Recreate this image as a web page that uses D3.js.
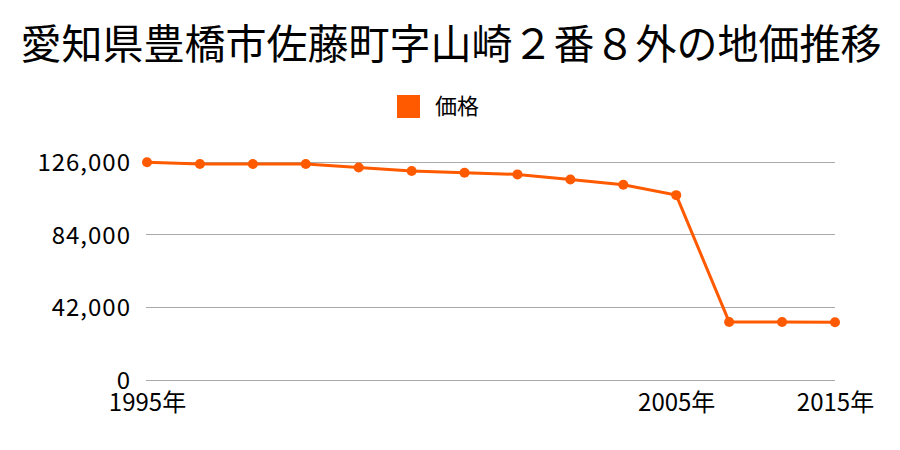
<!DOCTYPE html>
<html><head><meta charset="utf-8">
<script src="https://cdn.jsdelivr.net/npm/d3@7/dist/d3.min.js"></script>
<style>
html,body{margin:0;padding:0;background:#fff;}
text{font-family:"Noto Sans CJK JP","Noto Sans",sans-serif;fill:#000;}
</style></head>
<body><svg id="c" width="900" height="450"></svg>
<script>
const title = "愛知県豊橋市佐藤町字山崎２番８外の地価推移";
const seriesName = "価格";
const years = ["1995","1996","1997","1998","1999","2000","2001","2002","2003","2004","2005","2013","2014","2015"];
const values = [126000,125000,125000,125000,123000,121000,120000,119000,116000,113000,107000,33600,33600,33400];
const yTicks = [0,42000,84000,126000];
const xLabels = ["1995","2005","2015"];
const color = "#ff5a00";

const svg = d3.select("#c");
const pL = 147, pR = 835, pT = 162.3, pB = 380;
const x = d3.scalePoint().domain(years).range([pL, pR]);
const y = d3.scaleLinear().domain([0,126000]).range([pB, pT]);

svg.append("text").attr("x",451).attr("y",59).attr("text-anchor","middle")
  .style("font-size","41px").text(title);

svg.append("rect").attr("x",397).attr("y",95).attr("width",23).attr("height",23).attr("fill",color);
svg.append("text").attr("x",435).attr("y",114).style("font-size","22px").text(seriesName);

const yAxis = d3.axisLeft(y).tickValues(yTicks).tickSize(0).tickPadding(0)
  .tickFormat(d3.format(","));
const gy = svg.append("g").attr("transform",`translate(${pL-16},0)`).call(yAxis);
gy.select(".domain").remove();
gy.selectAll("text").style("font-size","24px").style("letter-spacing","1px")
  .attr("dy","0.35em").attr("fill","#000");

svg.append("g").selectAll("line").data(yTicks).join("line")
  .attr("x1",pL-1).attr("x2",pR).attr("y1",d=>y(d)).attr("y2",d=>y(d))
  .attr("stroke","#aaa").attr("stroke-width",1).attr("shape-rendering","crispEdges");

const xAxis = d3.axisBottom(x).tickValues(xLabels).tickSize(0).tickPadding(0)
  .tickFormat(d=>d+"年");
const gx = svg.append("g").attr("transform",`translate(0,${pB})`).call(xAxis);
gx.select(".domain").remove();
gx.selectAll("text").style("font-size","24px").attr("dy",null).attr("y",31).attr("fill","#000");

const data = years.map((yr,i)=>({yr, v:values[i]}));
svg.append("path").datum(data)
  .attr("fill","none").attr("stroke",color).attr("stroke-width",3)
  .attr("d", d3.line().x(d=>x(d.yr)).y(d=>y(d.v)));
svg.append("g").selectAll("circle").data(data).join("circle")
  .attr("cx",d=>x(d.yr)).attr("cy",d=>y(d.v)).attr("r",5).attr("fill",color);
</script></body></html>
